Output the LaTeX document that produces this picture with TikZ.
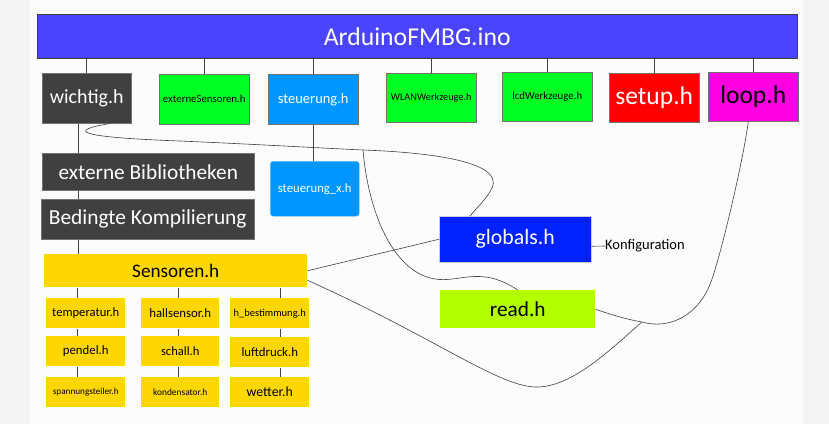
\documentclass[tikz,border=0pt]{standalone}
\usepackage{fontspec}
\setmainfont{Carlito}
\usepackage{tikz}
\usetikzlibrary{positioning}
\definecolor{titelblau}{RGB}{75,68,255}
\definecolor{dunkel}{RGB}{64,64,64}
\definecolor{hellgruen}{RGB}{0,255,34}
\definecolor{steublau}{RGB}{0,150,255}
\definecolor{rot}{RGB}{255,0,0}
\definecolor{magenta2}{RGB}{255,0,224}
\definecolor{sensgelb}{RGB}{255,215,0}
\definecolor{globblau}{RGB}{0,34,255}
\definecolor{lime}{RGB}{179,255,0}
\definecolor{rand}{RGB}{244,244,244}
\definecolor{mitte}{RGB}{252,252,252}

\begin{document}
\begin{tikzpicture}[x=1pt,y=-1pt,
  blk/.style={draw=black!55,line width=0.5pt,inner sep=0pt,anchor=north west},
  kopf/.style={blk,minimum width=90pt,minimum height=50pt},
  gelb/.style={blk,draw=none,fill=sensgelb,minimum width=79pt,minimum height=30pt},
  verb/.style={draw=black!75,line width=0.6pt},
  fs/.style={font=\fontsize{#1}{#1}\selectfont}]
  \useasboundingbox (0,0) rectangle (829,424);
  \fill[rand] (0,0) rectangle (829,424);
  \fill[mitte] (30,0) rectangle (803,424);

  % Hauptdatei
  \node[blk,draw=black!75,fill=titelblau,text=white,fs=25.7,minimum width=760pt,minimum height=44pt] (titel) at (37,14) {ArduinoFMBG.ino};

  % erste Ebene
  \node[kopf,fill=dunkel,text=white,fs=20,minimum width=89pt] (wichtig) at (42,73) {wichtig.h};
  \node[kopf,fill=hellgruen,fs=10.8] (extsens) at (159,74) {externeSensoren.h};
  \node[kopf,fill=steublau,text=white,fs=14.5] (steu) at (268,74) {\raisebox{2pt}{steuerung.h}};
  \node[kopf,fill=hellgruen,fs=10.3,minimum height=49pt] (wlan) at (386,73) {WLANWerkzeuge.h};
  \node[kopf,fill=hellgruen,fs=10.8,minimum height=49pt] (lcd) at (502,72) {lcdWerkzeuge.h};
  \node[kopf,fill=rot,text=white,fs=25.5,minimum height=49pt] (setup) at (609,73) {setup.h};
  \node[kopf,fill=magenta2,fs=25.5,minimum height=49pt] (loop) at (708,72) {loop.h};

  \foreach \n in {wichtig,extsens,steu,wlan,lcd,setup,loop}
    \draw[verb] (\n.north) -- (\n.north |- titel.south);

  % unter wichtig.h
  \node[blk,fill=dunkel,text=white,fs=21.3,minimum width=212pt,minimum height=37pt] (extbib) at (42,153) {externe Bibliotheken};
  \node[blk,fill=dunkel,text=white,fs=21.4,minimum width=213pt,minimum height=40pt] (bedingt) at (41,199) {Bedingte Kompilierung};
  \node[gelb,fs=19.2,minimum width=263pt,minimum height=33pt] (sens) at (44,254) {Sensoren.h};
  \draw[verb] ([xshift=-8pt]wichtig.south) -- ([xshift=-8pt]wichtig.south |- extbib.north);
  \draw[verb] ([xshift=-8pt]wichtig.south |- extbib.south) -- ([xshift=-8pt]wichtig.south |- bedingt.north);
  \draw[verb] ([xshift=-8pt]wichtig.south |- bedingt.south) -- ([xshift=-8pt]wichtig.south |- sens.north);

  % Sensoren
  \node[gelb,fs=12.6] (temp) at (46,298) {temperatur.h};
  \node[gelb,fs=12.8,minimum width=78pt] (hall) at (141,298) {hallsensor.h};
  \node[gelb,fs=10.5] (hbest) at (230,298) {h\_bestimmung.h};
  \node[gelb,fs=12.8] (pendel) at (46,336) {pendel.h};
  \node[gelb,fs=12.6,minimum width=78pt] (schall) at (141,336) {schall.h};
  \node[gelb,fs=12.8] (luft) at (230,337) {luftdruck.h};
  \node[gelb,fs=9.2] (spann) at (46,377) {spannungsteiler.h};
  \node[gelb,fs=9.4,minimum width=78pt] (kond) at (141,377) {kondensator.h};
  \node[gelb,fs=13.8] (wetter) at (230,377) {wetter.h};

  \foreach \a/\b/\c/\s in {temp/pendel/spann/-8pt,hall/schall/kond/-2pt,hbest/luft/wetter/11pt}{
    \draw[verb] ([xshift=\s]\a.north |- sens.south) -- ([xshift=\s]\a.north);
    \draw[verb] ([xshift=\s]\a.south) -- ([xshift=\s]\b.north);
    \draw[verb] ([xshift=\s]\b.south) -- ([xshift=\s]\c.north);
  }

  % steuerung
  \node[blk,draw=none,fill=steublau,text=white,fs=12.7,rounded corners=3pt,minimum width=89pt,minimum height=55pt] (steux) at (270,161) {steuerung\_x.h};
  \draw[verb] (steu.south) -- (steu.south |- steux.north);

  % globals und read
  \node[blk,draw=black!20,fill=globblau,text=white,fs=21.8,minimum width=152pt,minimum height=46pt] (glob) at (439,216) {globals.h};
  \node[anchor=west,inner sep=0pt,fs=14.5] (konf) at (605,246) {Konfiguration};
  \draw[verb] ([yshift=-7pt]glob.east) -- (konf.west);
  \node[blk,draw=none,fill=lime,fs=21.3,minimum width=155pt,minimum height=38pt] (read) at (440,290) {read.h};

  \coordinate (gabel) at (363,150);
  \coordinate (treffen) at (642,322);

  \draw[verb] ([xshift=-21pt]wichtig.south east) .. controls (70,130) and (70,137) .. (180,141)
    .. controls (250,144) and (320,148) .. (gabel)
    .. controls (420,152) and (505,160) .. (492,188)
    .. controls (486,200) and (476,208) .. ([xshift=-45pt]glob.north);
  \draw[verb] (gabel) .. controls (368,210) and (392,272) .. (435,279)
    .. controls (460,283) and (480,265) .. (read.north);
  \draw[verb] (sens.east) -- (glob.west);
  \draw[verb] ([yshift=-9.5pt]sens.east) .. controls (440,340) and (500,388) .. (538,387)
    .. controls (575,386) and (615,345) .. (treffen);
  \draw[verb] (read.east) .. controls (615,316) and (630,320) .. (treffen)
    .. controls (670,330) and (700,315) .. (712,279)
    .. controls (725,240) and (745,150) .. ([xshift=-5pt]loop.south);
\end{tikzpicture}
\end{document}
